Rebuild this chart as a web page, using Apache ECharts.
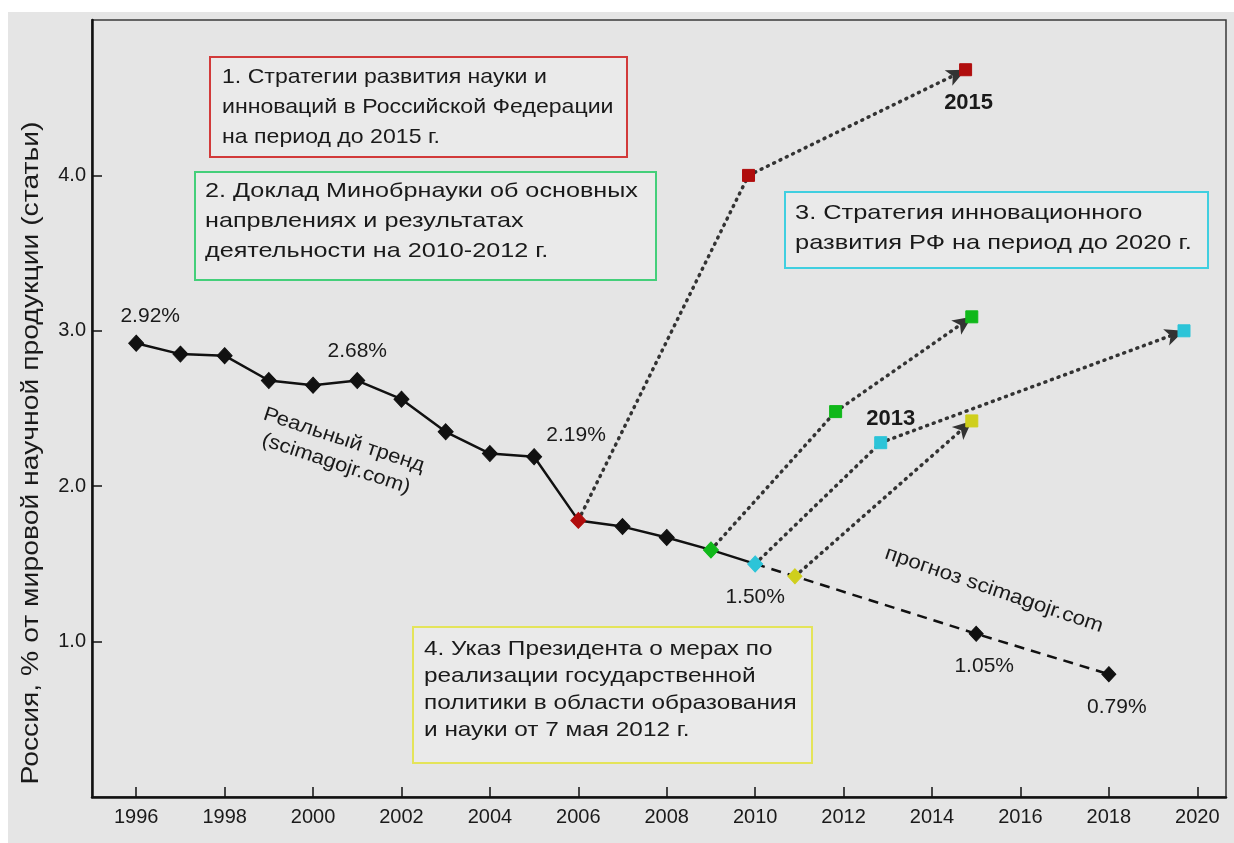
<!DOCTYPE html>
<html><head><meta charset="utf-8">
<script src="https://cdn.jsdelivr.net/npm/echarts@6/dist/echarts.min.js"></script>
<style>html,body{margin:0;padding:0;background:#fff}#c{width:1234px;height:843px}</style>
</head><body><div id="c"></div>
<script>
// ---- data ----
const realYears = [1996,1997,1998,1999,2000,2001,2002,2003,2004,2005,2006,2007,2008,2009,2010];
const realShare = [2.92,2.85,2.84,2.68,2.65,2.68,2.56,2.35,2.21,2.19,1.78,1.74,1.67,1.59,1.50];
const forecastYears = [2010,2010.9,2015,2018];
const forecastShare = [1.50,1.42,1.05,0.79];
const plan1Years = [2006,2009.85,2014.76]; const plan1Share = [1.78,4.00,4.68];
const plan2Years = [2009,2011.82,2014.9];  const plan2Share = [1.59,2.48,3.09];
const plan3Years = [2010,2012.84,2019.7];  const plan3Share = [1.50,2.28,3.00];
const plan4Years = [2010.9,2014.9];        const plan4Share = [1.42,2.42];
const xTicks = [1996,1998,2000,2002,2004,2006,2008,2010,2012,2014,2016,2018,2020];
const yTicks = [1,2,3,4];
const yTitle = 'Россия, % от мировой научной продукции (статьи)';
const realLabelYears = [1996,2001,2005,2010];
const forecastLabelYears = [2015,2018];
const box1 = ['1. Стратегии развития науки и','инноваций в Российской Федерации','на период до 2015 г.'];
const box2 = ['2. Доклад Минобрнауки об основных','напрвлениях и результатах','деятельности на 2010-2012 г.'];
const box3 = ['3. Стратегия инновационного','развития РФ на период до 2020 г.'];
const box4 = ['4. Указ Президента о мерах по','реализации государственной','политики в области образования','и науки от 7 мая 2012 г.'];
const trendText = ['Реальный тренд','(scimagojr.com)'];
const forecastText = 'прогноз scimagojr.com';

// ---- styles ----
const FONT = '"Liberation Sans", Arial, sans-serif';
const C = {red:'#b00d0d', green:'#10b81a', cyan:'#2cc4d8', yellow:'#cfcf1c'};
const diamondColor = {2006:C.red, 2009:C.green, 2010:C.cyan};
const planColors = [C.red, C.green, C.cyan, C.yellow];
const plans = [[plan1Years,plan1Share],[plan2Years,plan2Share],[plan3Years,plan3Share],[plan4Years,plan4Share]];

const fmtPct = v => v.toFixed(2) + '%';
const realData = realYears.map((y,i)=>{
  const d = {value:[y, realShare[i]]};
  if (diamondColor[y]) d.itemStyle = {color: diamondColor[y], borderColor: diamondColor[y]};
  if (realLabelYears.includes(y)) {
    d.label = {show:true, formatter: fmtPct(realShare[i])};
    if (y === 1996) { d.label.position='top'; d.label.distance=8; d.label.offset=[14,0]; }
    if (y === 2001) { d.label.position='top'; d.label.distance=10; }
    if (y === 2005) { d.label.position='top'; d.label.distance=2; d.label.offset=[42,0]; }
    if (y === 2010) { d.label.position='bottom'; d.label.distance=14; }
  }
  return d;
});
const forecastData = forecastYears.map((y,i)=>{
  const d = {value:[y, forecastShare[i]]};
  if (i === 0) d.symbol = 'none';
  if (i === 1) d.itemStyle = {color: C.yellow, borderColor: C.yellow};
  if (forecastLabelYears.includes(y)) d.label = {show:true, position:'bottom', distance:14, offset:[8,0], formatter: fmtPct(forecastShare[i])};
  return d;
});

// dotted plan paths via markLine; last segment with arrow
const planSeries = plans.map(([ys, vs], k)=>{
  const segs = [];
  for (let i=0;i<ys.length-1;i++){
    const last = i === ys.length-2;
    segs.push([
      {coord:[ys[i], vs[i]], symbol:'none'},
      {coord:[ys[i+1], vs[i+1]], symbol: last ? 'arrow' : 'none', symbolSize:[13,19]}
    ]);
  }
  const targets = ys.slice(1).map((y,i)=>({value:[y, vs[i+1]]}));
  if (k === 0) targets[1].label = {show:true, position:'bottom', distance:16, offset:[3,0], fontWeight:'bold', fontSize:22, formatter:'2015'};
  if (k === 2) targets[0].label = {show:true, position:'top', distance:6, offset:[10,0], fontWeight:'bold', fontSize:22, formatter:'2013'};
  return {
    type:'line', data: targets, z: 5,
    lineStyle:{width:0, opacity:0}, symbol:'rect', symbolSize:12,
    itemStyle:{color: planColors[k], borderColor: planColors[k], borderWidth:1},
    label:{color:'#1a1a1a', fontFamily: FONT},
    markLine:{silent:true, animation:false, z:3, label:{show:false},
      lineStyle:{type:[1,6], width:3.5, color:'#333', cap:'round'},
      itemStyle:{color:'#111'}, emphasis:{disabled:true},
      data: segs}
  };
});

function boxText(lines, x, y, lh, sx){
  return {type:'text', z:10, x, y, scaleX:sx,
    style:{text: lines.join('\n'), x:0, y:0, font:'21px ' + FONT, fill:'#1a1a1a', lineHeight: lh, textVerticalAlign:'top'}};
}
function boxRect(x, y, w, h, color){
  return {type:'rect', z:9, shape:{x, y, width:w, height:h}, style:{fill:'rgba(236,236,236,0.6)', stroke: color, lineWidth:2}};
}

const option = {
  backgroundColor:'#e5e5e5',
  animation:false,
  grid:{left:92, right:8, top:20, bottom:46, show:true, borderColor:'#3a3a3a', borderWidth:1.5},
  xAxis:{type:'value', min:1995, max:2020.65,
    splitLine:{show:false},
    axisLine:{show:true, onZero:false, lineStyle:{color:'#111', width:2.5}},
    axisTick:{show:true, inside:true, length:10, customValues: xTicks, lineStyle:{color:'#111', width:1.5}},
    axisLabel:{customValues: xTicks, color:'#1a1a1a', fontSize:20, fontFamily: FONT, margin:10, formatter: v => String(v)}
  },
  yAxis:{type:'value', min:0, max:5,
    splitLine:{show:false},
    axisLine:{show:true, onZero:false, lineStyle:{color:'#111', width:2.5}},
    axisTick:{show:true, inside:true, length:10, customValues: yTicks, lineStyle:{color:'#111', width:1.5}},
    axisLabel:{customValues: yTicks, color:'#1a1a1a', fontSize:20, fontFamily: FONT, margin:6, formatter: v => v.toFixed(1)}
  },
  series:[
    ...planSeries,
    {type:'line', data: forecastData, z:4, symbol:'diamond', symbolSize:[14,15],
      lineStyle:{color:'#111', width:2.5, type:[10,7]}, itemStyle:{color:'#111', borderColor:'#111'},
      label:{color:'#1a1a1a', fontSize:21, fontFamily: FONT}},
    {type:'line', data: realData, z:6, symbol:'diamond', symbolSize:[15,16],
      lineStyle:{color:'#111', width:2.5}, itemStyle:{color:'#111', borderColor:'#111'},
      label:{color:'#1a1a1a', fontSize:21, fontFamily: FONT}}
  ],
  graphic:[
    {type:'rect', shape:{x:0,y:0,width:1234,height:12}, style:{fill:'#fff'}, z:20},
    {type:'rect', shape:{x:0,y:0,width:8,height:843}, style:{fill:'#fff'}, z:20},
    {type:'text', z:10, x:31, y:453, rotation:Math.PI/2, scaleX:1.18,
      style:{text: yTitle, x:0, y:0, font:'24px ' + FONT, fill:'#1a1a1a', textAlign:'center', textVerticalAlign:'middle'}},
    boxRect(210,57,417,100,'#d23a3a'), boxText(box1, 222, 62, 30, 1.10),
    boxRect(195,172,461,108,'#44cf7a'), boxText(box2, 205, 176, 30, 1.2),
    boxRect(785,192,423,76,'#40cfe0'), boxText(box3, 795, 198, 30, 1.21),
    boxRect(413,627,399,136,'#e4e45a'), boxText(box4, 424, 636, 27, 1.16),
    {type:'text', z:10, x:340, y:452, rotation:-0.32, scaleX:1.1,
      style:{text: trendText.join('\n'), x:0, y:0, font:'20px ' + FONT, fill:'#1a1a1a', textAlign:'center', textVerticalAlign:'middle', lineHeight:25}},
    {type:'text', z:10, x:994, y:590, rotation:-0.33, scaleX:1.12,
      style:{text: forecastText, x:0, y:0, font:'20px ' + FONT, fill:'#1a1a1a', textAlign:'center', textVerticalAlign:'middle'}}
  ]
};
const chart = echarts.init(document.getElementById('c'));
chart.setOption(option);
</script></body></html>
